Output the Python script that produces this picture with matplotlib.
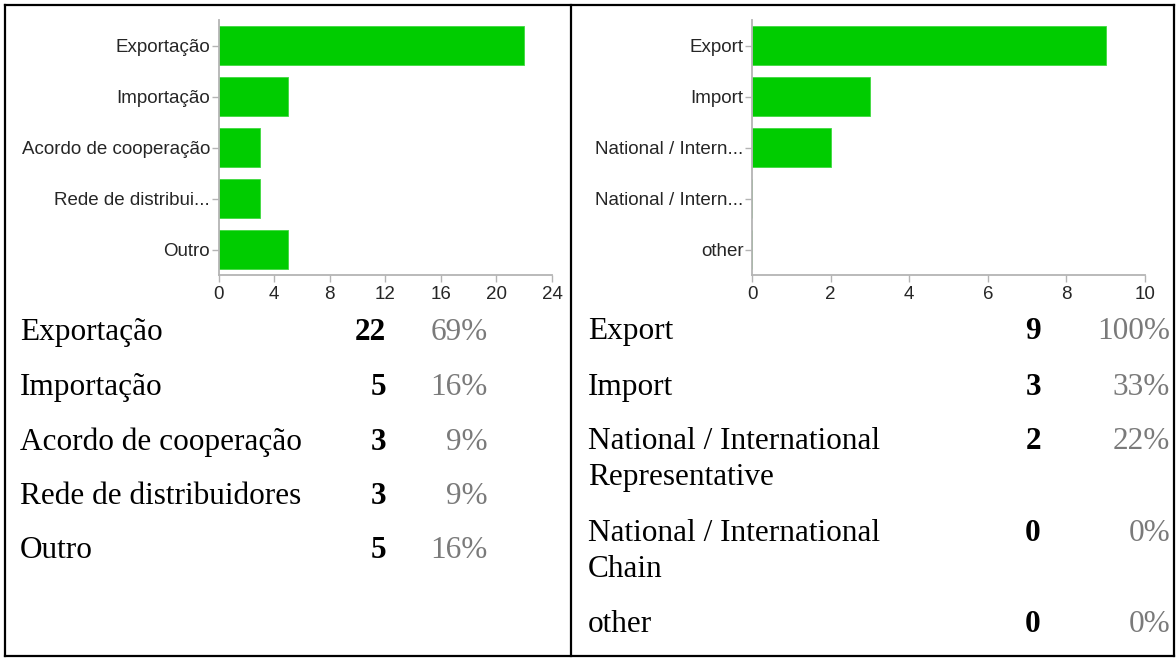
import matplotlib.pyplot as plt
from matplotlib.lines import Line2D

# survey answers, left sheet (Portuguese) and right sheet (English)
pt_axis_labels = ["Exportação", "Importação", "Acordo de cooperação", "Rede de distribui...", "Outro"]
pt_labels = ["Exportação", "Importação", "Acordo de cooperação", "Rede de distribuidores", "Outro"]
pt_counts = [22, 5, 3, 3, 5]
pt_pcts = [69, 16, 9, 9, 16]
pt_xticks = [0, 4, 8, 12, 16, 20, 24]

en_axis_labels = ["Export", "Import", "National / Intern...", "National / Intern...", "other"]
en_labels = ["Export", "Import", "National / International\nRepresentative",
             "National / International\nChain", "other"]
en_counts = [9, 3, 2, 0, 0]
en_pcts = [100, 33, 22, 0, 0]
en_xticks = [0, 2, 4, 6, 8, 10]

W, H = 1176, 658
GREEN = "#00cc00"
AXIS_GREY = "#b4b4b4"
fig = plt.figure(figsize=(W / 100, H / 100), dpi=100)


def px(x0, y0, x1, y1):
    # pixel box (top-left origin) -> figure fraction rect
    return [x0 / W, 1 - y1 / H, (x1 - x0) / W, (y1 - y0) / H]


def bar_panel(rect, labels, counts, xticks):
    ax = fig.add_axes(rect)
    pos = list(range(len(labels)))
    ax.barh(pos, counts, height=0.78, color=GREEN, edgecolor="#40d840", linewidth=0.6)
    ax.set_ylim(len(labels) - 0.5, -0.5)
    ax.set_xlim(xticks[0], xticks[-1])
    ax.set_yticks(pos)
    ax.set_yticklabels(labels)
    ax.set_xticks(xticks)
    for s in ["top", "right"]:
        ax.spines[s].set_visible(False)
    for s in ["left", "bottom"]:
        ax.spines[s].set_color(AXIS_GREY)
        ax.spines[s].set_linewidth(1.3)
    ax.tick_params(axis="y", length=5, width=1, color=AXIS_GREY, pad=1,
                   labelsize=13.5, labelcolor="#262626")
    ax.tick_params(axis="x", length=5, width=1, color=AXIS_GREY, pad=3,
                   labelsize=13.5, labelcolor="#262626")
    for t in ax.get_xticklabels() + ax.get_yticklabels():
        t.set_fontfamily("Liberation Sans")
    return ax


bar_panel(px(218.5, 20, 552, 275), pt_axis_labels, pt_counts, pt_xticks)
bar_panel(px(752, 20, 1145, 275), en_axis_labels, en_counts, en_xticks)


def table(labels, counts, pcts, x_lab, x_cnt, x_pct, baselines):
    serif = "Liberation Serif"
    size = 22.5
    for lab, c, p, yb in zip(labels, counts, pcts, baselines):
        for i, line in enumerate(lab.split("\n")):
            fig.text(x_lab / W, 1 - (yb + 36 * i) / H, line, fontsize=size,
                     family=serif, va="baseline", ha="left", color="black")
        fig.text(x_cnt / W, 1 - yb / H, str(c), fontsize=size, family=serif,
                 fontweight="bold", va="baseline", ha="right", color="black")
        fig.text(x_pct / W, 1 - yb / H, f"{p}%", fontsize=size, family=serif,
                 va="baseline", ha="right", color="#7a7a7a")


table(pt_labels, pt_counts, pt_pcts, 20, 386, 488, [340, 395, 450, 504, 558])
table(en_labels, en_counts, en_pcts, 588, 1041, 1170, [339, 395, 449, 541, 632])

# cell borders
def seg(x0, y0, x1, y1, lw=1.6):
    fig.add_artist(Line2D([x0 / W, x1 / W], [1 - y0 / H, 1 - y1 / H],
                          color="black", linewidth=lw, transform=fig.transFigure))


seg(5, 4.5, 1174, 4.5)
seg(5, 656, 1174, 656)
seg(5, 4.5, 5, 656)
seg(571, 4.5, 571, 656)
seg(1174, 4.5, 1174, 656)

fig.savefig("out.png", dpi=100)
